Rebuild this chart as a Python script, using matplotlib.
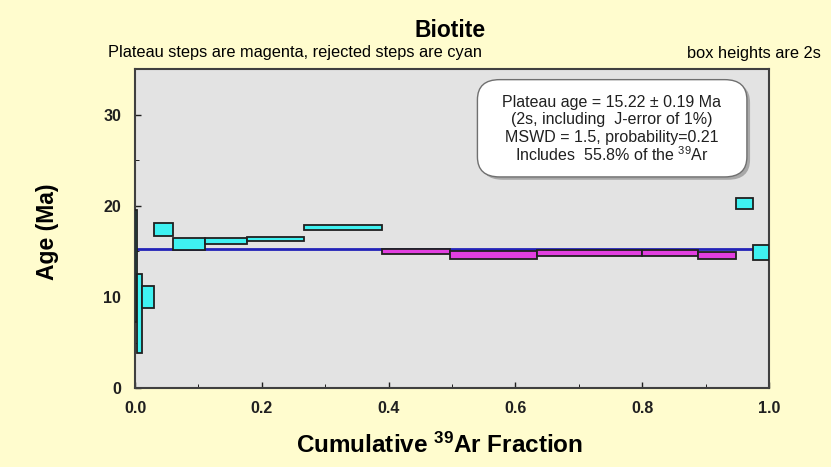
import numpy as np
import matplotlib.pyplot as plt
from matplotlib.patches import Rectangle, FancyBboxPatch

plt.rcParams['font.family'] = ['Liberation Sans', 'DejaVu Sans']
plt.rcParams['mathtext.fontset'] = 'custom'
plt.rcParams['mathtext.rm'] = 'Liberation Sans'
plt.rcParams['mathtext.bf'] = 'Liberation Sans:bold'
plt.rcParams['mathtext.default'] = 'regular'

# cumulative 39Ar fraction boundaries of each heating step
frac_lo = [0.000, 0.003, 0.011, 0.030, 0.060, 0.110, 0.177, 0.266, 0.390, 0.497, 0.634, 0.800, 0.888, 0.948, 0.975]
frac_hi = [0.003, 0.011, 0.030, 0.060, 0.110, 0.177, 0.266, 0.390, 0.497, 0.634, 0.800, 0.888, 0.948, 0.975, 1.000]
# step ages (Ma) and 2s half-heights
ages = [13.4, 8.2, 10.0, 17.4, 15.85, 16.15, 16.35, 17.6, 15.0, 14.6, 14.8, 14.8, 14.55, 20.25, 14.9]
errs = [6.1, 4.3, 1.2, 0.75, 0.65, 0.35, 0.25, 0.3, 0.3, 0.45, 0.3, 0.3, 0.35, 0.65, 0.8]
in_plateau = [False] * 8 + [True] * 5 + [False] * 2
plateau_age = 15.22

info_lines = ['Plateau age = 15.22 \u00b1 0.19 Ma',
              '(2s, including  J-error of 1%)',
              'MSWD = 1.5, probability=0.21',
              'Includes  55.8% of the $^{39}$Ar']

fig = plt.figure(figsize=(8.31, 4.67), dpi=100)
fig.patch.set_facecolor('#FFFCCE')
ax = fig.add_axes([0.1625, 0.169, 0.763, 0.683])
ax.set_facecolor('#E3E3E3')

for lo, hi, a, e, p in zip(frac_lo, frac_hi, ages, errs, in_plateau):
    col = '#E23FE0' if p else '#3FF2F2'
    ax.add_patch(Rectangle((lo, a - e), hi - lo, 2 * e, facecolor=col,
                           edgecolor='#202020', linewidth=1.3, zorder=3))

ax.plot([0, 1], [plateau_age, plateau_age], color='#2323B8', linewidth=2, zorder=2)

ax.set_xlim(0, 1)
ax.set_ylim(0, 35)
ax.set_xticks(np.arange(0, 1.01, 0.2))
ax.set_xticks(np.arange(0, 1.01, 0.1), minor=True)
ax.set_yticks([0, 10, 20, 30])
ax.set_yticks([5, 15, 25], minor=True)
ax.tick_params(direction='in', length=4, width=1, labelsize=11.5, colors='#202020')
ax.tick_params(which='minor', direction='in', length=3)
ax.tick_params(axis='x', pad=9)
ax.tick_params(axis='y', pad=10)
for lab in ax.get_xticklabels() + ax.get_yticklabels():
    lab.set_fontweight('bold')
for s in ax.spines.values():
    s.set_linewidth(1.5)
    s.set_color('#404040')

ax.set_xlabel('Cumulative $^{39}$Ar Fraction', fontsize=17.5, fontweight='bold')
ax.set_ylabel('Age (Ma)', fontsize=16.5, fontweight='bold')
ax.xaxis.set_label_coords(0.481, -0.14)
ax.yaxis.set_label_coords(-0.12, 0.49)

# info box with shadow
ax.add_patch(FancyBboxPatch((0.545, 0.653), 0.425, 0.305, boxstyle='round,pad=0,rounding_size=0.035',
                            transform=ax.transAxes, facecolor='#A8A8A8', edgecolor='none', zorder=4,
                            mutation_aspect=1.8))
ax.add_patch(FancyBboxPatch((0.540, 0.662), 0.425, 0.305, boxstyle='round,pad=0,rounding_size=0.035',
                            transform=ax.transAxes, facecolor='white', edgecolor='#707070', linewidth=1,
                            zorder=5, mutation_aspect=1.8))
for i, t in enumerate(info_lines):
    ax.text(0.752, 0.895 - i * 0.054, t, transform=ax.transAxes, ha='center', va='center',
            fontsize=11.5, color='#202020', zorder=6)

fig.text(0.542, 0.935, 'Biotite', ha='center', va='center', fontsize=16.5, fontweight='bold')
fig.text(0.130, 0.887, 'Plateau steps are magenta, rejected steps are cyan', ha='left', va='center', fontsize=11.8)
fig.text(0.988, 0.885, 'box heights are 2s', ha='right', va='center', fontsize=11.8)

fig.savefig('out.png', dpi=100, facecolor=fig.get_facecolor())
